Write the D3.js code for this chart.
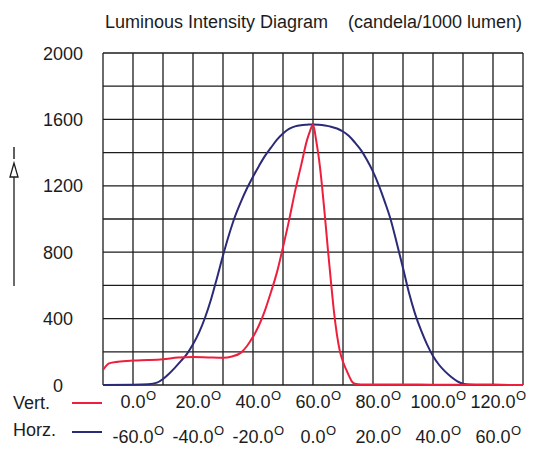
<!DOCTYPE html>
<html>
<head>
<meta charset="utf-8">
<script src="https://cdn.jsdelivr.net/npm/d3@7"></script>
<style>
  html, body { margin: 0; padding: 0; background: #fff; }
  svg { display: block; font-family: "Liberation Sans", Arial, sans-serif; }
</style>
</head>
<body>
<svg id="chart" width="539" height="451"></svg>
<script>
// ---- data ----
const titleMain = "Luminous Intensity Diagram";
const titleUnit = "(candela/1000 lumen)";
const yTickValues = [0, 400, 800, 1200, 1600, 2000];
const vertTickValues = [0, 20, 40, 60, 80, 100, 120];
const horzTickValues = [-60, -40, -20, 0, 20, 40, 60];
const seriesNames = ["Vert.", "Horz."];

// Vert. (red): angle in degrees, intensity cd/klm
const vertAngles = [-10, -8, -5, 0, 5, 10, 15, 20, 25, 30, 33, 36, 38, 40, 42, 44, 46, 48, 50, 52, 54, 56, 58, 59, 60, 61, 62, 63, 64, 65, 66, 67, 68, 69, 70, 71, 72, 73, 74, 76, 80, 90, 100, 110, 120, 130];
const vertValues = [90, 130, 140, 147, 150, 155, 165, 168, 166, 164, 172, 195, 235, 290, 360, 450, 560, 680, 830, 990, 1165, 1320, 1475, 1530, 1570, 1480, 1360, 1200, 1010, 810, 620, 440, 300, 200, 140, 95, 55, 20, 7, 3, 3, 3, 2, 2, 1, 0];

// Horz. (blue)
const horzAngles = [-70, -60, -55, -52, -50, -48, -46, -44, -42, -40, -38, -36, -34, -32, -30, -28, -26, -24, -22, -20, -18, -16, -14, -12, -10, -8, -6, -4, -2, 0, 2, 4, 6, 8, 10, 12, 14, 16, 18, 20, 22, 24, 26, 28, 30, 32, 34, 36, 38, 40, 42, 44, 46, 48, 50, 52, 55, 60, 70];
const horzValues = [0, 1, 4, 14, 36, 68, 105, 145, 188, 245, 315, 405, 515, 645, 780, 905, 1015, 1105, 1185, 1255, 1320, 1380, 1430, 1478, 1515, 1543, 1558, 1565, 1568, 1570, 1568, 1563, 1556, 1545, 1527, 1500, 1460, 1415, 1355, 1285, 1200, 1100, 990, 850, 705, 555, 430, 330, 245, 175, 122, 82, 50, 24, 8, 3, 2, 1, 0];

// ---- layout ----
const svg = d3.select("#chart");
const pLeft = 103, pRight = 523, pTop = 53, pBottom = 385;
const ink = "#1c1c1c";
const red = "#ee1f3c";
const blue = "#2b2a78";

const xV = d3.scaleLinear().domain([-10, 130]).range([pLeft, pRight]);
const xH = d3.scaleLinear().domain([-70, 70]).range([pLeft, pRight]);
const y = d3.scaleLinear().domain([0, 2000]).range([pBottom, pTop]);

// title
svg.append("text").attr("x", 105).attr("y", 28).attr("font-size", 18).attr("fill", ink)
  .text(titleMain);
svg.append("text").attr("x", 348).attr("y", 28).attr("font-size", 18).attr("fill", ink)
  .text(titleUnit);

// grid
const grid = svg.append("g").attr("stroke", ink).attr("stroke-width", 1.3).attr("fill", "none");
grid.selectAll("line.h").data(d3.range(0, 2001, 200)).join("line")
  .attr("class", "h")
  .attr("x1", pLeft).attr("x2", pRight)
  .attr("y1", d => y(d)).attr("y2", d => y(d));
grid.selectAll("line.v").data(d3.range(-10, 131, 10)).join("line")
  .attr("class", "v")
  .attr("y1", pTop).attr("y2", pBottom)
  .attr("x1", d => xV(d)).attr("x2", d => xV(d));

// y tick labels
svg.append("g").selectAll("text").data(yTickValues).join("text")
  .attr("x", d => d === 0 ? 53 : 43)
  .attr("y", d => y(d) + 6.5)
  .attr("font-size", 18).attr("fill", ink)
  .text(d => d);

// y arrow with "I"
svg.append("line").attr("x1", 14).attr("x2", 14).attr("y1", 177).attr("y2", 286)
  .attr("stroke", ink).attr("stroke-width", 1.3);
svg.append("path").attr("d", "M14,163 L10,177 L18,177 Z")
  .attr("fill", "none").attr("stroke", ink).attr("stroke-width", 1.3);
svg.append("line").attr("x1", 14).attr("x2", 14).attr("y1", 147).attr("y2", 159)
  .attr("stroke", ink).attr("stroke-width", 1.4);

// curves
const lineV = d3.line().x(d => xV(d[0])).y(d => y(d[1])).curve(d3.curveMonotoneX);
const lineH = d3.line().x(d => xH(d[0])).y(d => y(d[1])).curve(d3.curveMonotoneX);
svg.append("path").datum(d3.zip(horzAngles, horzValues))
  .attr("d", lineH).attr("fill", "none").attr("stroke", blue).attr("stroke-width", 2);
svg.append("path").datum(d3.zip(vertAngles, vertValues))
  .attr("d", lineV).attr("fill", "none").attr("stroke", red).attr("stroke-width", 2);

// legend + x labels
function degLabels(g, values, scale, baseline) {
  values.forEach(v => {
    const t = g.append("text").attr("x", scale(v)).attr("y", baseline)
      .attr("text-anchor", "middle").attr("font-size", 18).attr("fill", ink)
      .text(v.toFixed(1));
    const w = t.node().getComputedTextLength();
    g.append("text").attr("x", scale(v) + w / 2 + 0.5).attr("y", baseline - 8)
      .attr("font-size", 13).attr("fill", ink).text("O");
  });
}
const lg = svg.append("g");
lg.append("text").attr("x", 13).attr("y", 409).attr("font-size", 18).attr("fill", ink).text(seriesNames[0]);
lg.append("line").attr("x1", 72).attr("x2", 102).attr("y1", 403).attr("y2", 403)
  .attr("stroke", red).attr("stroke-width", 2);
lg.append("text").attr("x", 13).attr("y", 436).attr("font-size", 18).attr("fill", ink).text(seriesNames[1]);
lg.append("line").attr("x1", 72).attr("x2", 102).attr("y1", 432).attr("y2", 432)
  .attr("stroke", blue).attr("stroke-width", 2);

degLabels(lg, vertTickValues, xV, 408);
degLabels(lg, horzTickValues, xH, 443);
</script>
</body>
</html>
